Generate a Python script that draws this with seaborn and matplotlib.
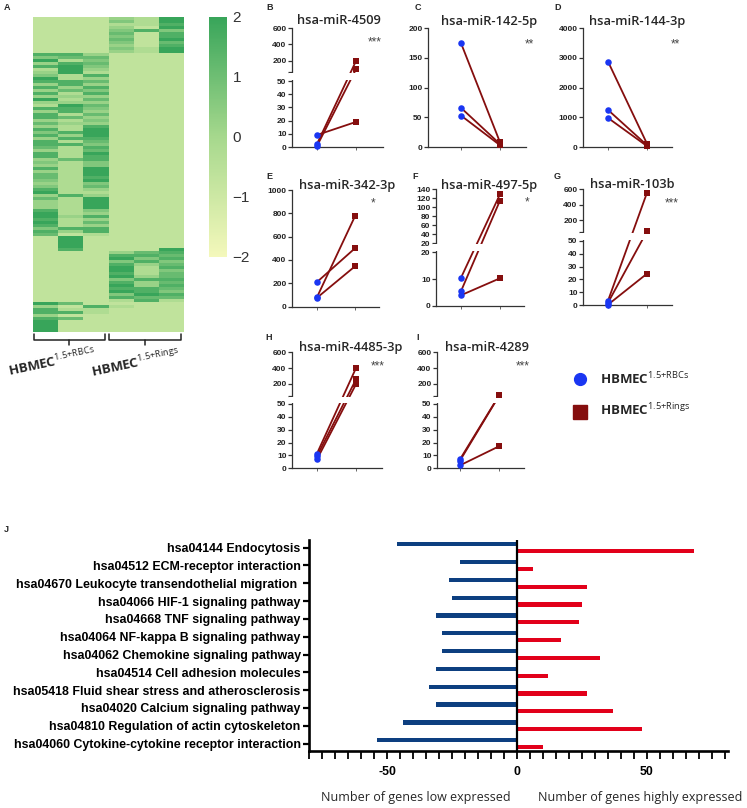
import numpy as np
import pandas as pd
import seaborn as sns
import matplotlib.pyplot as plt
from matplotlib.colors import LinearSegmentedColormap
from matplotlib.patches import Rectangle

sns.set_style("ticks")
plt.rcParams['font.family'] = ['Liberation Sans', 'DejaVu Sans']
plt.rcParams['mathtext.fontset'] = 'custom'
plt.rcParams['mathtext.rm'] = 'Open Sans'
plt.rcParams['mathtext.bf'] = 'Open Sans:bold'

W, H = 747, 808

# ---------------- data ----------------
# panel A: one string per miRNA row, 6 samples, level 0 (z=-2) .. 9 (z=+2)
HEAT_COLS = ["RBCs 1", "RBCs 2", "RBCs 3", "Rings 1", "Rings 2", "Rings 3"]
HEAT_ROWS = [
    "333549", "333649", "333448", "333539", "333686", "333738", "333638", "333739",
    "333637", "333538", "333649", "333549",
    "885333", "677333", "946333", "587333", "896333", "495333", "594333", "648333",
    "945333", "887333", "585333", "858333", "576333", "848333", "555333", "947333",
    "555333", "497333", "886333", "585333", "847333", "875333", "546333", "755333",
    "548333", "849333", "689333", "859333", "588333", "847333", "886333", "748333",
    "547333", "849333", "848333", "578333", "646333", "546333", "849333", "549333",
    "749333", "748333", "649333", "546333", "647333", "845333", "944333", "585333",
    "749333", "549333", "549333", "549333", "846333", "945333", "958333", "845333",
    "947333", "845333", "688333", "858333",
    "734333", "393333", "393333", "393333", "393333", "383339",
    "333578", "333887", "333968", "333686", "333857", "333948", "333946", "333847",
    "333957", "333688", "333857", "333958", "333887", "333986", "333698", "333877",
    "333484",
    "973333", "538433", "844333", "884333", "533333", "873333",
    "933333", "933333", "933333", "933333",
]

# panels B-I: paired expression values (RBC sample i pairs with Ring sample i)
MIR_NAMES = ["hsa-miR-4509", "hsa-miR-142-5p", "hsa-miR-144-3p", "hsa-miR-342-3p",
             "hsa-miR-497-5p", "hsa-miR-103b", "hsa-miR-4485-3p", "hsa-miR-4289"]
RBC_VALUES = [[2.3, 0.8, 9.1], [175, 66, 53], [2880, 1250, 980], [210, 80, 75],
              [10.5, 5.5, 4.0], [3.5, 2.0, 0.5], [11.5, 9.5, 7.0], [7.0, 6.0, 2.3]]
RING_VALUES = [[196, 94, 19], [8, 5, 3], [110, 60, 30], [500, 775, 345],
               [129, 115, 10.3], [556, 60, 24.5], [400, 257, 196], [62, 58, 17.3]]
STARS = ["***", "**", "**", "*", "*", "***", "***", "***"]

# panel J
PATHWAYS = ["hsa04144 Endocytosis", "hsa04512 ECM-receptor interaction",
            "hsa04670 Leukocyte transendothelial migration ", "hsa04066 HIF-1 signaling pathway",
            "hsa04668 TNF signaling pathway", "hsa04064 NF-kappa B signaling pathway",
            "hsa04062 Chemokine signaling pathway", "hsa04514 Cell adhesion molecules",
            "hsa05418 Fluid shear stress and atherosclerosis", "hsa04020 Calcium signaling pathway",
            "hsa04810 Regulation of actin cytoskeleton",
            "hsa04060 Cytokine-cytokine receptor interaction"]
LOW_COUNTS = [-46, -22, -26, -25, -31, -29, -29, -31, -34, -31, -44, -54]
HIGH_COUNTS = [68, 6, 27, 25, 24, 17, 32, 12, 27, 37, 48, 10]

# ---------------- layout / style ----------------
BLUE = '#1a36f2'
DARKRED = '#850e0e'

fig = plt.figure(figsize=(W / 100, H / 100), dpi=100)


def px(l, t, r, b):
    return [l / W, 1 - b / H, (r - l) / W, (b - t) / H]


# ---- A: heatmap
cmap = LinearSegmentedColormap.from_list('ylgn', ['#f4f8bb', '#a6d88d', '#38a55a'])
levels = np.array([[int(c) for c in row] for row in HEAT_ROWS], dtype=float)
heat_df = pd.DataFrame(-2 + levels * 4 / 9, columns=HEAT_COLS)
ax_a = fig.add_axes(px(33, 17, 184, 332))
cax = fig.add_axes(px(209, 17, 227, 257))
sns.heatmap(heat_df, cmap=cmap, vmin=-2, vmax=2, ax=ax_a, cbar_ax=cax,
            xticklabels=False, yticklabels=False, cbar_kws={'ticks': [-2, -1, 0, 1, 2]})
ax_a.collections[0].colorbar.outline.set_visible(False)
cax.tick_params(length=0, labelsize=11, labelcolor='#333333', pad=4)
ax_a.set_xlabel('')
ax_a.set_ylabel('')

# ---- B-I: paired dot plots
# left spine, right end, top, bottom, x of RBC group, x of Rings group (pixels)
BOXES = [(292, 383, 28.3, 147, 317, 356), (428, 526, 28.3, 147, 461, 500),
         (583, 672, 28.3, 147, 608, 647), (292, 379, 190, 306.5, 317, 355),
         (436, 524, 189.3, 306, 461, 500), (583, 672, 189.3, 305.3, 608, 647),
         (292, 382, 352.3, 468.3, 317, 356), (437, 524, 352.3, 468.3, 460, 499.5)]
# ('lin', ticks) or ('brk', bottom top, bottom px, gap px, top start, top end, top px, ticks low, ticks high, label of top start)
YAXES = [('brk', 50, 66, 9, 60, 600, 43.7, [0, 10, 20, 30, 40, 50], [200, 400, 600], ''),
         ('lin', [0, 50, 100, 150, 200]),
         ('lin', [0, 1000, 2000, 3000, 4000]),
         ('lin', [0, 200, 400, 600, 800, 1000]),
         ('brk', 20, 54, 9, 20.01, 140, 54, [0, 10, 20], [40, 60, 80, 100, 120, 140], '20'),
         ('brk', 50, 64.6, 9, 55, 600, 42.4, [0, 10, 20, 30, 40, 50], [200, 400, 600], ''),
         ('brk', 50, 64.3, 8.3, 50.01, 600, 43.4, [0, 10, 20, 30, 40, 50], [200, 400, 600], ''),
         ('brk', 50, 64.3, 8.3, 50.01, 600, 43.4, [0, 10, 20, 30, 40, 50], [200, 400, 600], '')]
LETTERS = ['B', 'C', 'D', 'E', 'F', 'G', 'H', 'I']
LETTER_POS = [(266, 3), (415, 3), (554, 3), (266, 172), (412, 172), (554, 172), (265, 333), (416, 333)]
TITLE_POS = [(339, 21), (489, 21), (637, 21), (347, 185), (489, 185), (632, 184), (351, 347), (487, 347)]
STAR_POS = [(375, 42), (529, 44), (675, 44), (373, 203), (527, 202), (672, 203), (378, 366), (523, 366)]


def make_broken(ax, b_top, hb, gap, t_bot, t_top, ht):
    vs = [-10 * b_top, 0, b_top, t_bot, t_top, 10 * t_top]
    ps = [-10 * hb, 0, hb, hb + gap, hb + gap + ht, hb + gap + ht + 9 * t_top * ht / (t_top - t_bot)]
    fwd = lambda v: np.interp(np.asarray(v, dtype=float), vs, ps)
    inv = lambda p: np.interp(np.asarray(p, dtype=float), ps, vs)
    ax.set_yscale('function', functions=(fwd, inv))
    return fwd, inv


for i, name in enumerate(MIR_NAMES):
    l, r, t, b, c1, c2 = BOXES[i]
    ax = fig.add_axes(px(l, t, r, b))
    u = c2 - c1
    pair_df = pd.DataFrame({
        'x': [0, 1] * 3,
        'value': [v for pair in zip(RBC_VALUES[i], RING_VALUES[i]) for v in pair],
        'pair': [0, 0, 1, 1, 2, 2],
    })
    spec = YAXES[i]
    if spec[0] == 'brk':
        _, b_top, hb, gap, t_bot, t_top, ht, lo_ticks, hi_ticks, tb_label = spec
        fwd, inv = make_broken(ax, b_top, hb, gap, t_bot, t_top, ht)
        ax.set_ylim(0, t_top)
        ticks = lo_ticks + [t_bot] + hi_ticks
        labels = [str(v) for v in lo_ticks] + [tb_label] + [str(v) for v in hi_ticks]
        ax.set_yticks(ticks)
        ax.set_yticklabels(labels)
        lo = float(inv(fwd(b_top) + 0.9))
        hi = float(inv(fwd(t_bot) - 0.9))
        ax.add_patch(Rectangle((-0.03, lo), 1.05, hi - lo, transform=ax.get_yaxis_transform(),
                               facecolor='white', edgecolor='none', zorder=4, clip_on=False))
    else:
        ticks = spec[1]
        ax.set_ylim(0, ticks[-1])
        ax.set_yticks(ticks)
        ax.set_yticklabels([str(v) for v in ticks])

    sns.lineplot(data=pair_df, x='x', y='value', units='pair', estimator=None,
                 color=DARKRED, lw=1.3, ax=ax, legend=False, zorder=2)
    sns.scatterplot(x=[0, 0, 0], y=RBC_VALUES[i], marker='o', color=BLUE, s=22,
                    linewidth=0, ax=ax, zorder=6, clip_on=False)
    sns.scatterplot(x=[1, 1, 1], y=RING_VALUES[i], marker='s', color=DARKRED, s=20,
                    linewidth=0, ax=ax, zorder=6, clip_on=False)

    ax.set_xlim((l - c1) / u, (r - c1) / u)
    ax.set_xticks([0, 1])
    ax.set_xticklabels([])
    ax.set_xlabel('')
    ax.set_ylabel('')
    sns.despine(ax=ax)
    for s in ['left', 'bottom']:
        ax.spines[s].set_color('#333333')
        ax.spines[s].set_linewidth(0.9)
    ax.tick_params(axis='y', length=3, width=0.9, pad=1, labelsize=6, colors='#333333')
    ax.tick_params(axis='x', length=2, width=0.7, colors='#666666')
    for lab in ax.get_yticklabels():
        lab.set_fontweight('bold')
        lab.set_color('#222222')

    fig.text(LETTER_POS[i][0] / W, 1 - LETTER_POS[i][1] / H, LETTERS[i], fontsize=6.5,
             fontweight='bold', va='top', ha='left')
    fig.text(TITLE_POS[i][0] / W, 1 - TITLE_POS[i][1] / H, name, fontsize=9.3,
             family='Open Sans', fontweight='semibold', ha='center', va='center')
    fig.text(STAR_POS[i][0] / W, 1 - STAR_POS[i][1] / H, STARS[i], fontsize=8.5,
             color='#444444', ha='center', va='center')

# ---- J: pathway bars
df_j = pd.DataFrame({
    'pathway': PATHWAYS * 2,
    'count': LOW_COUNTS + HIGH_COUNTS,
    'group': ['low'] * len(PATHWAYS) + ['high'] * len(PATHWAYS),
})
ax_j = fig.add_axes(px(309, 540, 727.6, 750.7))
sns.barplot(data=df_j, x='count', y='pathway', hue='group', palette=['#0d3f80', '#e2001a'],
            orient='h', width=0.76, dodge=True, saturation=1, ax=ax_j, legend=False)
for p in ax_j.patches:
    h0 = p.get_height()
    p.set_y(p.get_y() + (h0 - 0.24) / 2)
    p.set_height(0.24)
    p.set_edgecolor('none')
ax_j.axvline(0, color='black', lw=1.6, zorder=3)
ax_j.set_xlim(-80, 81)
ax_j.set_ylim(11.4, -0.43)
xt = list(range(-80, 81, 5))
ax_j.set_xticks(xt)
ax_j.set_xticklabels([str(v) if v in (-50, 0, 50) else '' for v in xt])
ax_j.set_xlabel('')
ax_j.set_ylabel('')
sns.despine(ax=ax_j)
for s in ['left', 'bottom']:
    ax_j.spines[s].set_linewidth(1.9)
    ax_j.spines[s].set_color('black')
ax_j.tick_params(axis='y', length=4.5, width=1.6, pad=1.5, labelsize=8.9, colors='black')
ax_j.tick_params(axis='x', length=6, width=1.3, pad=5, labelsize=8.8, colors='black')
for lab in ax_j.get_yticklabels() + ax_j.get_xticklabels():
    lab.set_fontweight('bold')

fig.text(4 / W, 1 - 525 / H, 'J', fontsize=6.5, fontweight='bold', va='top', ha='left')
fig.text(4 / W, 1 - 3 / H, 'A', fontsize=6.5, fontweight='bold', va='top', ha='left')
fig.text(416 / W, 1 - 798 / H, 'Number of genes low expressed', fontsize=9,
         family='Open Sans', ha='center', va='center')
fig.text(640 / W, 1 - 798 / H, 'Number of genes highly expressed', fontsize=9,
         family='Open Sans', ha='center', va='center')

# ---- overlay in pixel space: brackets, group labels, legend
ov = fig.add_axes([0, 0, 1, 1])
ov.set_xlim(0, W)
ov.set_ylim(H, 0)
ov.axis('off')
for (x0, x1) in [(33.5, 105), (108.5, 180.5)]:
    xm = (x0 + x1) / 2
    ov.plot([x0, x0, x1, x1], [333.5, 339.5, 339.5, 333.5], color='#222222', lw=1.1)
    ov.plot([xm, xm], [339.5, 345], color='#222222', lw=1.1)

lab_rbc = r'$\mathbf{HBMEC}^{\mathrm{1.5{+}RBCs}}$'
lab_ring = r'$\mathbf{HBMEC}^{\mathrm{1.5{+}Rings}}$'
ov.text(52, 362, lab_rbc, rotation=12, ha='center', va='center', fontsize=9.5, rotation_mode='anchor')
ov.text(136, 363, lab_ring, rotation=12, ha='center', va='center', fontsize=9.5, rotation_mode='anchor')

ov.plot([580], [379], marker='o', markersize=8.5, color=BLUE, lw=0)
ov.plot([580], [412], marker='s', markersize=9.5, color=DARKRED, lw=0)
ov.text(600, 379, lab_rbc, ha='left', va='center', fontsize=9.5)
ov.text(600, 410, lab_ring, ha='left', va='center', fontsize=9.5)

fig.savefig('out.png', dpi=100)
